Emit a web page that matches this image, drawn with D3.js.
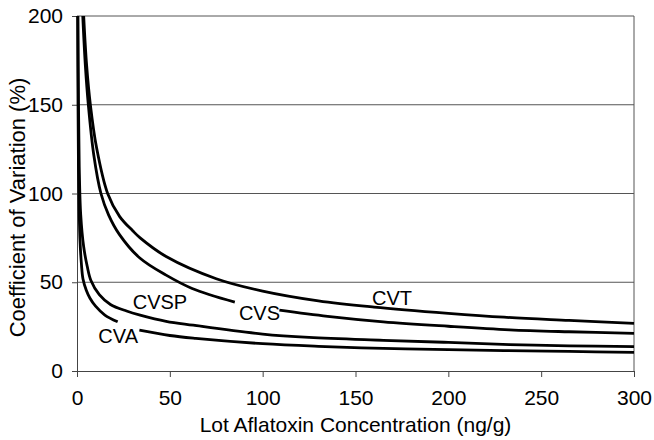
<!DOCTYPE html>
<html>
<head>
<meta charset="utf-8">
<script src="https://cdn.jsdelivr.net/npm/d3@7"></script>
<style>
  body { margin: 0; background: #fff; }
  text { font-family: Arial, "Liberation Sans", sans-serif; }
</style>
</head>
<body>
<div id="chart"></div>
<script>
// curves: x = lot concentration (ng/g), y = CV (%)
const cvtX = [3.6, 5.2, 7.2, 10.5, 16.5, 23, 30, 34, 48, 75, 100, 130, 160, 200, 230, 265, 300];
const cvtY = [200, 172, 150, 126, 100, 87, 79, 75, 64.5, 52, 45, 39.5, 36, 32.5, 30.3, 28.5, 26.8];

const cvsX = [3.1, 4.5, 6.1, 9, 12.9, 17, 22.8, 34, 48, 62, 85, 109, 135, 165, 200, 233, 265, 300];
const cvsY = [200, 172, 150, 122, 100, 88, 77, 63.5, 54, 46.5, 38.8, 34.3, 30.8, 27.7, 25.2, 23.2, 22.1, 21.2];

const cvspX = [0.5, 0.8, 1.2, 2, 3.6, 5.5, 7.5, 12, 18, 26.7, 34, 48, 62.6, 100, 125, 165, 200, 233, 265, 300];
const cvspY = [200, 150, 115, 88, 70, 59, 51, 43, 37.5, 33.8, 31.5, 28, 25.8, 20.8, 18.9, 17.3, 16.1, 14.9, 14.2, 13.7];

const cvaX = [0.35, 0.55, 0.8, 1.2, 1.6, 2.4, 3.2, 5, 7, 10, 15, 21.9, 33.6, 50, 64, 100, 130, 165, 200, 230, 265, 300];
const cvaY = [200, 150, 115, 90, 74, 60, 52, 45.5, 41, 36.5, 31.5, 27.7, 23, 20, 18.4, 15.4, 13.9, 12.7, 12, 11.5, 11, 10.5];

const seriesNames = ["CVT", "CVS", "CVSP", "CVA"];
// where a curve is interrupted by its label (x range in ng/g)
const gapCVS = [85, 109];
const gapCVA = [21.9, 33.6];
// label anchors (left, baseline) in data units
const labelX = [158.9, 87.2, 30, 11.5];
const labelY = [37, 28.7, 34.8, 15.7];

const xTicks = [0, 50, 100, 150, 200, 250, 300];
const yTicks = [0, 50, 100, 150, 200];

// set the dimensions and margins of the graph
const margin = {top: 16, right: 20, bottom: 69, left: 77},
    width = 654 - margin.left - margin.right,
    height = 440 - margin.top - margin.bottom;

const svg = d3.select("#chart")
  .append("svg")
    .attr("width", width + margin.left + margin.right)
    .attr("height", height + margin.top + margin.bottom)
  .append("g")
    .attr("transform", `translate(${margin.left}, ${margin.top})`);

const x = d3.scaleLinear().domain([0, 300]).range([0, width]);
const y = d3.scaleLinear().domain([0, 200]).range([height, 0]);

// gridlines
svg.append("g")
  .selectAll("line")
  .data(yTicks.filter(d => d > 0))
  .join("line")
    .attr("x1", 0)
    .attr("x2", width)
    .attr("y1", d => y(d))
    .attr("y2", d => y(d))
    .attr("stroke", "#555")
    .attr("stroke-width", 1);

// right border
svg.append("line")
  .attr("x1", width).attr("x2", width)
  .attr("y1", 0).attr("y2", height)
  .attr("stroke", "#555");

// axes
const xAxis = svg.append("g")
  .attr("transform", `translate(0, ${height})`)
  .call(d3.axisBottom(x).tickValues(xTicks).tickSize(6).tickPadding(13).tickSizeOuter(0));
const yAxis = svg.append("g")
  .call(d3.axisLeft(y).tickValues(yTicks).tickSize(5).tickPadding(9).tickSizeOuter(0));

[xAxis, yAxis].forEach(a => {
  a.select(".domain").attr("stroke", "#444");
  a.selectAll(".tick line").attr("stroke", "#444");
  a.selectAll(".tick text")
    .attr("font-family", "Arial, 'Liberation Sans', sans-serif")
    .attr("font-size", 21)
    .attr("fill", "#000");
});

// curves
const line = d3.line()
  .x(d => x(d[0]))
  .y(d => y(d[1]))
  .curve(d3.curveCatmullRom.alpha(0.5));

function pts(xs, ys) { return xs.map((v, i) => [v, ys[i]]); }
function split(p, gap) {
  if (!gap) return [p];
  return [p.filter(d => d[0] <= gap[0]), p.filter(d => d[0] >= gap[1])];
}

const curves = [
  split(pts(cvtX, cvtY), null),
  split(pts(cvsX, cvsY), gapCVS),
  split(pts(cvspX, cvspY), null),
  split(pts(cvaX, cvaY), gapCVA)
];

svg.append("g")
  .selectAll("path")
  .data(curves.flat())
  .join("path")
    .attr("d", line)
    .attr("fill", "none")
    .attr("stroke", "#000")
    .attr("stroke-width", 2.8);

// curve labels
svg.append("g")
  .selectAll("text")
  .data(seriesNames)
  .join("text")
    .attr("x", (d, i) => x(labelX[i]))
    .attr("y", (d, i) => y(labelY[i]))
    .attr("font-size", 20)
    .attr("fill", "#000")
    .text(d => d);

// axis titles
svg.append("text")
  .attr("x", width / 2)
  .attr("y", height + 61)
  .attr("text-anchor", "middle")
  .attr("font-size", 21)
  .text("Lot Aflatoxin Concentration (ng/g)");

svg.append("text")
  .attr("transform", `translate(${-margin.left + 25}, ${height / 2 + 14}) rotate(-90)`)
  .attr("text-anchor", "middle")
  .attr("font-size", 22)
  .text("Coefficient of Variation (%)");
</script>
</body>
</html>
